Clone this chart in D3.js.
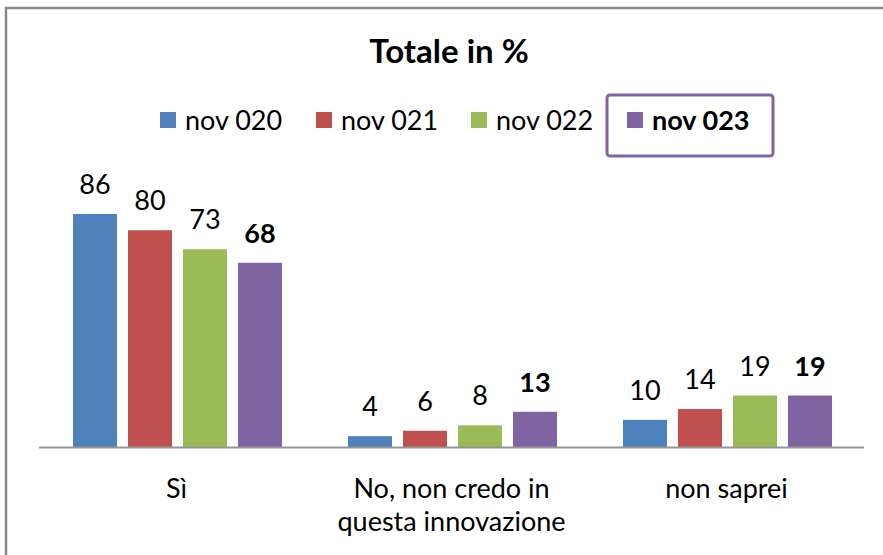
<!DOCTYPE html>
<html><head><meta charset="utf-8">
<script src="https://cdn.jsdelivr.net/npm/d3@7"></script>
<style>body{margin:0;background:#fff}svg{display:block}</style>
</head><body>
<svg id="c" width="883" height="555"></svg>
<script>
const categories = [["Sì"], ["No, non credo in", "questa innovazione"], ["non saprei"]];
const series = ["nov 020", "nov 021", "nov 022", "nov 023"];
const colors = ["#4F81BD", "#C0504D", "#9BBB59", "#8064A2"];
const v2020 = [86, 4, 10];
const v2021 = [80, 6, 14];
const v2022 = [73, 8, 19];
const v2023 = [68, 13, 19];
const values = [v2020, v2021, v2022, v2023];
const title = "Totale in %";

const font = "Lato, 'Open Sans', sans-serif";
const fs = 27;
const svg = d3.select("#c");
svg.append("rect").attr("x", 0).attr("y", 0).attr("width", 883).attr("height", 555).attr("fill", "#fff");
svg.append("path").attr("d", "M6,560 V8 H890").attr("fill", "none").attr("stroke", "#8a8a8a").attr("stroke-width", 2.5);

const x0 = d3.scaleBand().domain(d3.range(categories.length)).range([39, 864]).paddingInner(0).paddingOuter(0);
const x1 = d3.scaleBand().domain(d3.range(series.length)).range([34, 34 + 4 * 55 - 11]).paddingInner(0.2).paddingOuter(0);
const y = d3.scaleLinear().domain([0, 86]).range([447, 214]);

svg.append("text").attr("x", 449).attr("y", 63).attr("text-anchor", "middle")
  .attr("font-family", font).attr("font-weight", "bold").attr("font-size", 33).attr("fill", "#000").text(title);

// legend
const legX = [160, 316, 471, 627];
series.forEach((s, i) => {
  svg.append("rect").attr("x", legX[i]).attr("y", 112).attr("width", 16).attr("height", 16).attr("fill", colors[i]);
  svg.append("text").attr("x", legX[i] + 25).attr("y", 130).attr("font-family", font)
    .attr("font-size", fs).attr("font-weight", i === 3 ? "bold" : "normal").attr("fill", "#000").text(s);
});
svg.append("rect").attr("x", 607).attr("y", 95).attr("width", 166).attr("height", 61).attr("rx", 3)
  .attr("fill", "none").attr("stroke", "#8064A2").attr("stroke-width", 3);

const g = svg.append("g");
categories.forEach((c, ci) => {
  series.forEach((s, si) => {
    const val = values[si][ci];
    const bx = x0(ci) + x1(si);
    g.append("rect").attr("x", bx).attr("y", y(val)).attr("width", x1.bandwidth()).attr("height", y(0) - y(val))
      .attr("fill", colors[si]);
    g.append("text").attr("x", bx + x1.bandwidth() / 2).attr("y", y(val) - 20).attr("text-anchor", "middle")
      .attr("font-family", font).attr("font-size", fs).attr("font-weight", si === 3 ? "bold" : "normal")
      .attr("fill", "#000").text(val);
  });
  const t = svg.append("text").attr("x", x0(ci) + x0.bandwidth() / 2).attr("y", 498).attr("text-anchor", "middle")
    .attr("font-family", font).attr("font-size", fs).attr("fill", "#000");
  c.forEach((line, li) => t.append("tspan").attr("x", x0(ci) + x0.bandwidth() / 2).attr("dy", li === 0 ? 0 : 33).text(line));
});

svg.append("line").attr("x1", 39).attr("x2", 864).attr("y1", y(0) + 0.5).attr("y2", y(0) + 0.5)
  .attr("stroke", "#959595").attr("stroke-width", 2);
</script>
</body></html>
